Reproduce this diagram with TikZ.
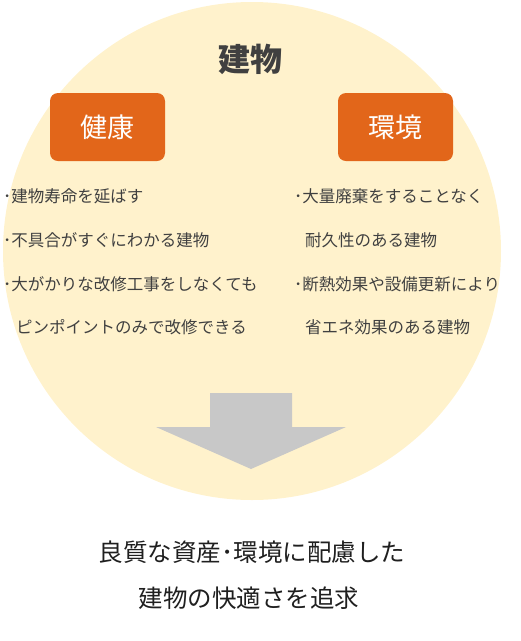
\documentclass[tikz,border=0pt]{standalone}
\usepackage{fontspec}
\setmainfont{Noto Sans CJK JP}
\usetikzlibrary{positioning}
\definecolor{circlefill}{HTML}{FFF2CC}
\definecolor{boxorange}{HTML}{E2661A}
\definecolor{arrowgray}{HTML}{C8C8C8}
\definecolor{textgray}{HTML}{404040}

\begin{document}
\begin{tikzpicture}[x=1pt,y=-1pt,
	box node/.style={fill=boxorange,rounded corners=8pt,minimum width=115pt,minimum height=68pt,text=white,font=\fontsize{27}{27}\selectfont},
	item node/.style={anchor=west,inner sep=0pt,text=textgray,font=\fontsize{16.5}{16.5}\selectfont},
	result node/.style={inner sep=0pt,text=black!88,font=\fontsize{24.5}{24.5}\selectfont}]
	\useasboundingbox (0,0) rectangle (521,641);
	
	\fill[circlefill] (252,251) circle (249);
	
	\node[text=textgray,font=\fontsize{32}{32}\selectfont\bfseries] (title) at (250,59) {建物};
	
	\node[box node] (1) at (107.5,127) {健康};
	\node[box node] (2) at (395.5,127) {環境};
	
	% left column
	\node[item node] (l1) at (3,196) {･建物寿命を延ばす};
	\node[item node] (l2) at (3,240) {･不具合がすぐにわかる建物};
	\node[item node] (l3) at (3,284) {･大がかりな改修工事をしなくても};
	\node[item node] (l4) at (16,327) {ピンポイントのみで改修できる};
	
	% right column
	\node[item node] (r1) at (294,196) {･大量廃棄をすることなく};
	\node[item node] (r2) at (305,240) {耐久性のある建物};
	\node[item node] (r3) at (294,284) {･断熱効果や設備更新により};
	\node[item node] (r4) at (305,327) {省エネ効果のある建物};
	
	\fill[arrowgray] (210,393) -- (292,393) -- (292,427) -- (346,427) -- (251,469)
		-- (156,427) -- (210,427) -- cycle;
	
	\node[result node] (3) at (252,552) {良質な資産･環境に配慮した};
	\node[result node] (4) at (249,598) {建物の快適さを追求};
	
\end{tikzpicture}
\end{document}
